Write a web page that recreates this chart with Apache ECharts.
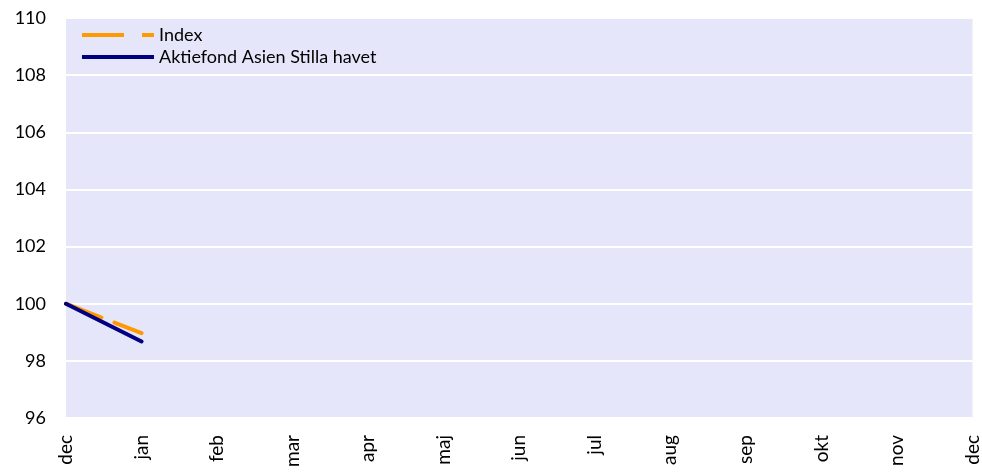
<!DOCTYPE html>
<html>
<head>
<meta charset="utf-8">
<script src="https://cdn.jsdelivr.net/npm/echarts@6/dist/echarts.min.js"></script>
<style>
html, body { margin: 0; padding: 0; background: #fff; }
#box1 { width: 982px; height: 473px; }
</style>
</head>
<body>
<div id="box1"></div>
<script>
var myChart = echarts.init(document.getElementById('box1'))

// month labels on the x axis
let months = ['dec', 'jan', 'feb', 'mar', 'apr', 'maj', 'jun', 'jul', 'aug', 'sep', 'okt', 'nov', 'dec'];
// series values (only the first month is filled)
let indexValues = [100, 98.97];
let fundValues = [100, 98.68];

let font = 'Lato, "Open Sans", sans-serif';

option = {
    backgroundColor: '#fff',
    animation: false,
    grid: {
        left: 66,
        right: 8,
        top: 18,
        bottom: 55,
        show: true,
        backgroundColor: '#E6E6FA',
        borderWidth: 0
    },
    legend: {
        orient: 'vertical',
        left: 77,
        top: 21,
        itemWidth: 72,
        itemHeight: 4,
        itemGap: 4,
        symbolKeepAspect: false,
        textStyle: {
            fontFamily: font,
            fontSize: 18,
            color: '#000'
        },
        data: [
            { name: 'Index', icon: 'path://M0,0h42v4h-42z M60,0h12v4h-12z' },
            { name: 'Aktiefond Asien Stilla havet', icon: 'path://M0,0h72v4h-72z' }
        ]
    },
    xAxis: {
        type: 'category',
        data: months.map(function (m, i) { return i + ':' + m; }),
        boundaryGap: false,
        axisLine: { show: false },
        axisTick: { show: false },
        splitLine: { show: false },
        axisLabel: {
            rotate: 90,
            interval: 0,
            margin: 17,
            fontFamily: font,
            fontSize: 19,
            color: '#000',
            formatter: function (v) { return v.split(':')[1]; }
        }
    },
    yAxis: {
        type: 'value',
        min: 96,
        max: 110,
        interval: 2,
        axisLine: { show: false },
        axisTick: { show: false },
        splitLine: {
            lineStyle: { color: '#fff', width: 2 }
        },
        axisLabel: {
            margin: 20,
            fontFamily: font,
            fontSize: 18,
            color: '#000'
        }
    },
    series: [
        {
            name: 'Index',
            type: 'line',
            showSymbol: false,
            symbol: 'none',
            color: '#FF9900',
            lineStyle: { width: 4, type: [38, 14], cap: 'round' },
            data: indexValues,
            z: 2
        },
        {
            name: 'Aktiefond Asien Stilla havet',
            type: 'line',
            showSymbol: false,
            symbol: 'none',
            color: '#000080',
            lineStyle: { width: 4, cap: 'round' },
            data: fundValues,
            z: 3
        }
    ]
};
myChart.setOption(option);
</script>
</body>
</html>
